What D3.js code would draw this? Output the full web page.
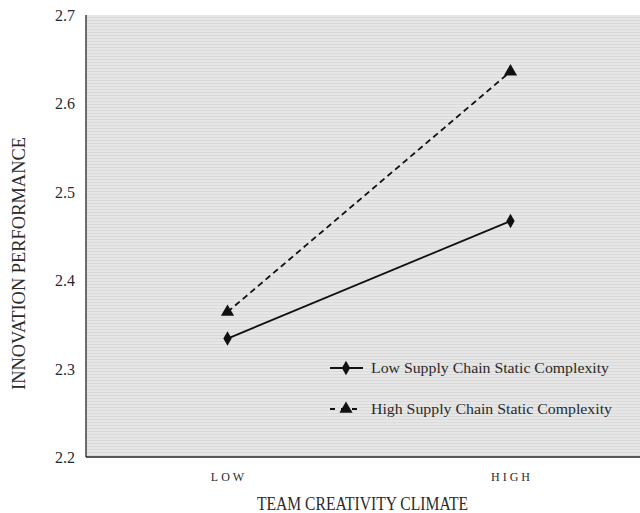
<!DOCTYPE html>
<html><head><meta charset="utf-8">
<script src="https://cdn.jsdelivr.net/npm/d3@7"></script>
<style>body{margin:0;background:#fff}svg{display:block}</style>
</head><body>
<script>
const categories = ["LOW", "HIGH"];
const seriesNames = ["Low Supply Chain Static Complexity", "High Supply Chain Static Complexity"];
const lowComplexity = [2.334, 2.467];
const highComplexity = [2.364, 2.636];
const yTicks = [2.2, 2.3, 2.4, 2.5, 2.6, 2.7];

const W = 640, H = 513;
const svg = d3.select("body").append("svg").attr("width", W).attr("height", H);
const mL = 86, mT = 15, mB = 457, mR = 640;

const x = d3.scalePoint().domain(categories).range([mL, 652]).padding(0.5);
const y = d3.scaleLinear().domain([2.2, 2.7]).range([mB, mT]);

const defs = svg.append("defs");
const pat = defs.append("pattern").attr("id", "bg").attr("width", 4).attr("height", 3).attr("patternUnits", "userSpaceOnUse");
pat.append("rect").attr("width", 4).attr("height", 3).attr("fill", "#e6e6e6");
pat.append("rect").attr("y", 2).attr("width", 4).attr("height", 1).attr("fill", "#dadada");

svg.append("rect").attr("x", mL).attr("y", mT).attr("width", mR - mL).attr("height", mB - mT).attr("fill", "url(#bg)");

svg.append("line").attr("x1", mL).attr("x2", mL).attr("y1", mT).attr("y2", mB).attr("stroke", "#111").attr("stroke-width", 1.2);
svg.append("line").attr("x1", mL).attr("x2", mR).attr("y1", mB).attr("y2", mB).attr("stroke", "#222").attr("stroke-width", 1.5);

const font = "'Liberation Serif','Times New Roman',serif";
const tc = "#2a2a2a";
svg.selectAll(".yt").data(yTicks).enter().append("text")
  .attr("x", 75).attr("y", d => y(d) + 6).attr("text-anchor", "end")
  .attr("font-family", font).attr("font-size", 16).attr("fill", tc)
  .text(d => d.toFixed(1));

svg.selectAll(".xt").data(categories).enter().append("text")
  .attr("x", d => x(d) + 1.5).attr("y", 481).attr("text-anchor", "middle")
  .attr("font-family", font).attr("font-size", 12).attr("letter-spacing", "3px").attr("fill", tc)
  .text(d => d);

svg.append("text").attr("x", 257).attr("y", 510)
  .attr("font-family", font).attr("font-size", 19).attr("fill", tc)
  .attr("textLength", 211).attr("lengthAdjust", "spacingAndGlyphs").text("TEAM CREATIVITY CLIMATE");
svg.append("text").attr("transform", "translate(25,390) rotate(-90)")
  .attr("font-family", font).attr("font-size", 19).attr("fill", tc)
  .attr("textLength", 253).attr("lengthAdjust", "spacingAndGlyphs").text("INNOVATION PERFORMANCE");

const line = d3.line().x((d, i) => x(categories[i])).y(d => y(d));
svg.append("path").datum(lowComplexity).attr("d", line).attr("fill", "none").attr("stroke", "#111").attr("stroke-width", 1.8);
svg.append("path").datum(highComplexity).attr("d", line).attr("fill", "none").attr("stroke", "#111").attr("stroke-width", 1.8).attr("stroke-dasharray", "6,4");

const diamond = d3.symbol().type(d3.symbolDiamond).size(60);
const tri = d3.symbol().type(d3.symbolTriangle).size(75);
svg.selectAll(".dm").data(lowComplexity).enter().append("path")
  .attr("d", diamond).attr("transform", (d, i) => `translate(${x(categories[i])},${y(d)})`).attr("fill", "#111");
svg.selectAll(".tr").data(highComplexity).enter().append("path")
  .attr("d", tri).attr("transform", (d, i) => `translate(${x(categories[i])},${y(d)})`).attr("fill", "#111");

const lg = svg.append("g");
const ly = [368, 409];
lg.append("line").attr("x1", 330).attr("x2", 363).attr("y1", ly[0]).attr("y2", ly[0]).attr("stroke", "#111").attr("stroke-width", 1.8);
lg.append("path").attr("d", diamond).attr("transform", `translate(346,${ly[0]})`).attr("fill", "#111");
lg.append("line").attr("x1", 330).attr("x2", 363).attr("y1", ly[1]).attr("y2", ly[1]).attr("stroke", "#111").attr("stroke-width", 1.8).attr("stroke-dasharray", "5,6");
lg.append("path").attr("d", tri).attr("transform", `translate(346,${ly[1]})`).attr("fill", "#111");
const legendLen = [238, 241];
lg.selectAll("text").data(seriesNames).enter().append("text")
  .attr("x", 371).attr("y", (d, i) => ly[i] + 5)
  .attr("font-family", font).attr("font-size", 15.5).attr("fill", tc)
  .attr("textLength", (d, i) => legendLen[i]).attr("lengthAdjust", "spacingAndGlyphs").text(d => d);
</script>
</body></html>
